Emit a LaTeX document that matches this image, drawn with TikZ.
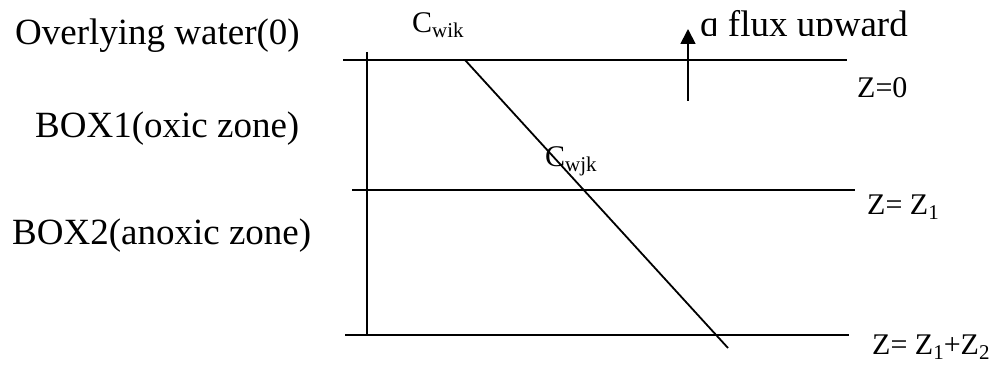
\documentclass[tikz,border=0pt]{standalone}
\usepackage{fontspec}
\setmainfont{Liberation Serif}
\usetikzlibrary{arrows.meta}
\newcommand\lowsub[1]{\raisebox{-0.15em}{\fontsize{21}{21}\selectfont #1}}
\begin{document}
\begin{tikzpicture}[x=1pt,y=-1pt,
  layer/.style={line width=2.2pt},
  big/.style={font=\fontsize{37}{40}\selectfont, anchor=base west, inner sep=0pt},
  mid/.style={font=\fontsize{30}{34}\selectfont, anchor=base west, inner sep=0pt}]
\useasboundingbox (0,0) rectangle (1004,371);
% coordinates
\coordinate (t0) at (343,60);  \coordinate (t1) at (847,60);
\coordinate (m0) at (352,190); \coordinate (m1) at (855,190);
\coordinate (b0) at (345,335); \coordinate (b1) at (849,335);
\coordinate (v0) at (367,52);  \coordinate (v1) at (367,335);
\coordinate (d0) at (465,60);  \coordinate (d1) at (728,348);
\coordinate (a0) at (688,101); \coordinate (a1) at (688,29);
% lines
\draw[layer] (t0) -- (t1);
\draw[layer] (m0) -- (m1);
\draw[layer] (b0) -- (b1);
\draw[layer] (v0) -- (v1);
\draw[line width=1.8pt] (d0) -- (d1);
\draw[line width=1.8pt,-{Triangle[length=15pt,width=15pt]}] (a0) -- (a1);
% labels
\node[big] (ow) at (15,45) {Overlying water(0)};
\node[big] (box1) at (35,138) {BOX1(oxic zone)};
\node[big] (box2) at (12,245) {BOX2(anoxic zone)};
\node[mid] (cwik) at (412,33) {C\lowsub{wik}};
\node[mid] (cwjk) at (545,167) {C\lowsub{wjk}};
\begin{scope}
\clip (695,0) rectangle (1004,35.5);
\node[big] (flux) at (700,37) {q flux upward};
\end{scope}
\node[mid] (z0) at (857,98) {Z=0};
\node[mid] (z1) at (867,215) {Z= Z\lowsub{1}};
\node[mid] (z2) at (872,355) {Z= Z\lowsub{1}+Z\lowsub{2}};
\end{tikzpicture}
\end{document}
